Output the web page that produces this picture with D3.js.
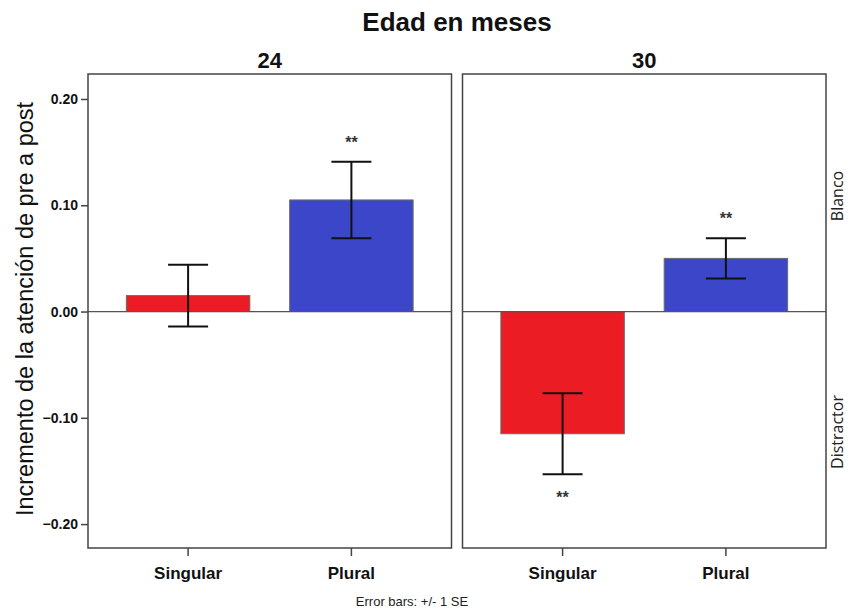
<!DOCTYPE html>
<html><head><meta charset="utf-8">
<script src="https://cdn.jsdelivr.net/npm/d3@7"></script>
<style>body{margin:0;background:#fff}text{font-family:"Liberation Sans",Arial,sans-serif}</style>
</head><body><svg id="c" width="849" height="610"></svg>
<script>
const panels = ["24", "30"];
const categories = ["Singular", "Plural"];
const means24 = [0.015, 0.105];
const se24 = [0.029, 0.036];
const means30 = [-0.115, 0.050];
const se30 = [0.038, 0.019];
const stars24 = ["", "**"];
const stars30 = ["**", "**"];
const yTicks = [0.20, 0.10, 0.00, -0.10, -0.20];
const colors = ["#ec1c24", "#3c46c8"];
const rowLabels = ["Blanco", "Distractor"];

const data = [
  {panel: panels[0], means: means24, se: se24, stars: stars24},
  {panel: panels[1], means: means30, se: se30, stars: stars30}
];

const svg = d3.select("#c");
const plotTop = 74, plotBottom = 548;
const y = d3.scaleLinear().domain([-0.2225, 0.2235]).range([plotBottom, plotTop]);
const pLeft = {"24": 88, "30": 462.5};
const pW = 363.5;

svg.append("text").attr("x", 457).attr("y", 31).attr("text-anchor", "middle")
  .attr("font-size", 26).attr("font-weight", "bold").attr("fill", "#111").text("Edad en meses");

data.forEach((d, pi) => {
  const x0 = pLeft[d.panel];
  const g = svg.append("g").attr("transform", `translate(${x0},0)`);
  const x = d3.scaleBand().domain(categories).range([0, pW]).paddingInner(0.244).paddingOuter(0.235);

  g.append("text").attr("x", pW/2).attr("y", 68).attr("text-anchor", "middle")
    .attr("font-size", 22).attr("font-weight", "bold").attr("fill", "#111").text(d.panel);

  g.selectAll("rect.bar").data(categories).enter().append("rect")
    .attr("x", c => x(c)).attr("width", x.bandwidth())
    .attr("y", (c, i) => y(Math.max(0, d.means[i])))
    .attr("height", (c, i) => Math.abs(y(d.means[i]) - y(0)))
    .attr("fill", (c, i) => colors[i]).attr("stroke", "#6a6a6a").attr("stroke-width", 1);

  g.append("line").attr("x1", 0).attr("x2", pW).attr("y1", y(0)).attr("y2", y(0))
    .attr("stroke", "#555").attr("stroke-width", 1.2);

  categories.forEach((c, i) => {
    const cx = x(c) + x.bandwidth()/2;
    const hi = d.means[i] + d.se[i], lo = d.means[i] - d.se[i];
    const eb = g.append("g").attr("stroke", "#111").attr("stroke-width", 2);
    eb.append("line").attr("x1", cx).attr("x2", cx).attr("y1", y(hi)).attr("y2", y(lo));
    eb.append("line").attr("x1", cx-20).attr("x2", cx+20).attr("y1", y(hi)).attr("y2", y(hi));
    eb.append("line").attr("x1", cx-20).attr("x2", cx+20).attr("y1", y(lo)).attr("y2", y(lo));
    if (d.stars[i]) {
      const sy = d.means[i] >= 0 ? y(hi) - 14 : y(lo) + 29;
      g.append("text").attr("x", cx).attr("y", sy).attr("text-anchor", "middle")
        .attr("font-size", 16).attr("font-weight", "bold").attr("fill", "#333").text(d.stars[i]);
    }
  });

  g.append("rect").attr("x", 0).attr("y", plotTop).attr("width", pW).attr("height", plotBottom - plotTop)
    .attr("fill", "none").attr("stroke", "#444").attr("stroke-width", 1.5);

  const xa = g.append("g").attr("transform", `translate(0,${plotBottom})`)
    .call(d3.axisBottom(x).tickSize(8).tickSizeOuter(0));
  xa.select(".domain").remove();
  xa.selectAll("line").attr("stroke", "#444").attr("stroke-width", 1.5);
  xa.selectAll("text").attr("font-size", 17).attr("font-weight", "bold").attr("fill", "#111")
    .attr("y", 31).attr("dy", 0);

  if (pi === 0) {
    const ya = g.append("g").call(d3.axisLeft(y).tickValues(yTicks).tickFormat(d3.format(".2f")).tickSize(7).tickSizeOuter(0));
    ya.select(".domain").remove();
    ya.selectAll("line").attr("stroke", "#444").attr("stroke-width", 1.5);
    ya.selectAll("text").attr("font-size", 14).attr("font-weight", "bold").attr("fill", "#111")
      .attr("x", -10);
  }
});

[[rowLabels[0], 196], [rowLabels[1], 432]].forEach(([t, cy]) => {
  svg.append("text").attr("transform", `translate(843,${cy}) rotate(-90)`)
    .attr("text-anchor", "middle").attr("font-size", 16).attr("fill", "#222")
    .style("font-family", "'Open Sans', sans-serif").text(t);
});

svg.append("text").attr("transform", "translate(33,309) rotate(-90)")
  .attr("text-anchor", "middle").attr("font-size", 23.5).attr("fill", "#111")
  .text("Incremento de la atención de pre a post");

svg.append("text").attr("x", 412).attr("y", 606).attr("text-anchor", "middle")
  .attr("font-size", 13).attr("fill", "#222").text("Error bars: +/- 1 SE");
</script></body></html>
